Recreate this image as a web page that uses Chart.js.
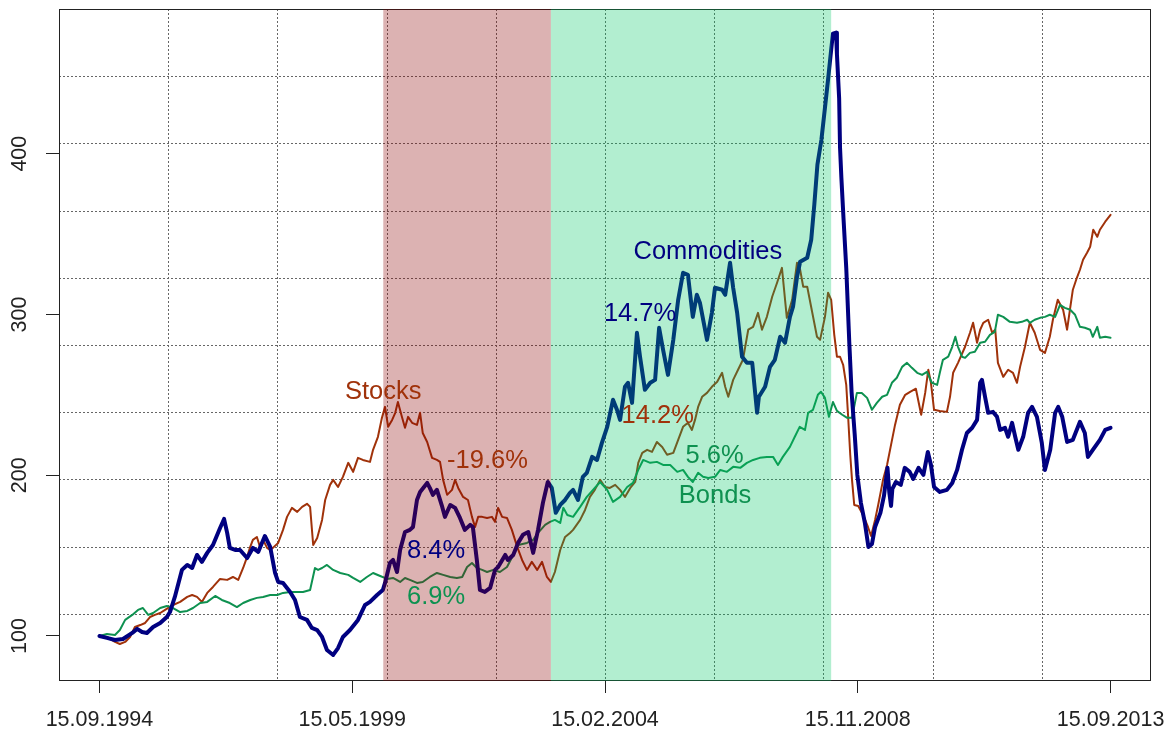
<!DOCTYPE html>
<html>
<head>
<meta charset="utf-8">
<script src="https://cdn.jsdelivr.net/npm/chart.js@4.4.1/dist/chart.umd.min.js"></script>
<style>
  html, body { margin: 0; padding: 0; background: #fff; }
  #wrap { width: 1173px; height: 736px; }
</style>
</head>
<body>
<div id="wrap"><canvas id="chart" width="1173" height="736"></canvas></div>
<script>
// x = months since 15.09.1994, y = index (start = 100)
const xTickPos = [0, 57, 114, 171, 228];
const xTickLabels = ['15.09.1994', '15.05.1999', '15.02.2004', '15.11.2008', '15.09.2013'];
const yTicks = [100, 200, 300, 400];

const commX = [0,1.7,3.5,5.3,7.4,8.5,9.6,10.7,12.1,13.7,15.2,15.9,17.0,18.6,19.8,20.9,22.0,23.1,24.3,25.6,27.2,28.1,28.8,29.4,30.6,31.7,33.3,34.6,35.8,37.3,38.5,39.6,40.3,41.4,43.0,44.1,45.2,46.8,47.9,49.1,50.2,51.3,52.7,53.8,54.9,56.5,58.3,59.9,61.0,62.6,63.9,64.4,65.5,66.2,67.1,67.8,68.9,70.0,70.7,71.6,72.3,73.9,74.5,75.2,76.1,77.3,77.9,79.1,80.2,81.3,82.4,83.6,84.2,85.1,85.8,86.9,88.1,89.2,89.9,91.5,92.1,93.3,94.4,95.5,96.7,97.8,98.9,100.0,101.1,102.0,102.9,103.9,105.0,106.1,106.8,107.9,109.0,109.9,111.1,112.2,113.3,114.5,115.8,116.7,117.4,118.5,119.2,120.1,121.2,121.9,123.0,124.2,125.3,126.2,127.1,128.2,129.4,130.5,131.6,132.7,133.8,134.7,135.4,137.0,138.1,138.8,140.4,141.1,142.2,142.9,143.8,144.9,146.0,147.2,148.3,148.7,150.1,151.2,152.3,153.5,154.6,155.7,156.4,157.3,158.0,159.6,160.5,161.2,161.9,162.8,163.6,164.3,165.0,165.4,166.1,166.3,166.8,167.0,167.3,167.8,168.4,169.1,169.6,170.3,170.9,171.7,172.6,173.4,174.2,174.9,176.1,176.9,177.7,178.1,178.5,178.8,179.6,180.7,181.6,182.7,183.5,184.7,185.8,186.8,187.5,188.2,189.5,191.1,192.3,193.4,194.5,195.6,196.8,197.9,198.6,199.0,199.7,200.4,201.5,202.4,203.1,204.2,204.9,205.8,206.5,207.2,208.3,209.4,210.3,211.4,212.5,213.2,214.4,215.5,216.2,217.1,218.2,219.5,221.1,222.2,222.9,224.0,225.6,226.8,228];
const commY = [100,98.8,97.5,98.1,101.9,104.4,102.5,101.9,105.6,108.1,111.8,114.9,124.3,141.1,144.2,142.3,150.4,146.1,151.7,156.6,167.2,172.8,164.1,154.8,153.5,153.5,148.5,154.8,152.3,162.2,155.4,139.2,133.6,133.0,127.4,122.4,111.8,110.0,105.0,103.7,99.4,91.3,88.2,92.5,99.4,103.7,110.0,119.3,121.2,125.5,128.6,133.0,145.4,147.3,139.8,153.5,164.7,166.0,167.8,184.6,189.6,195.2,192.1,187.8,190.9,180.3,174.1,181.5,179.7,173.4,166.0,169.1,167.8,147.3,128.6,127.4,129.9,141.1,142.9,150.4,147.3,150.4,157.9,162.9,164.7,151.7,166.0,182.8,195.8,192.1,176.6,181.5,184.6,189.0,190.9,184.6,199.0,201.5,211.4,209.5,220.1,230.1,246.9,240.7,234.4,255.0,257.5,245.0,288.6,273.7,253.1,257.5,259.3,291.7,278.0,262.4,284.2,309.1,325.9,324.7,298.5,312.2,307.3,284.2,301.0,316.6,315.4,312.2,332.2,316.6,301.0,273.7,269.9,269.9,238.8,248.8,255.0,267.4,271.8,286.1,282.4,298.5,304.8,323.4,332.8,335.3,346.5,368.3,393.2,408.7,428.6,446.1,464.7,474.7,475.3,461.9,434.2,403.7,385.1,358.9,329.0,281.7,251.9,225.7,200.2,182.8,170.3,155.4,157.3,167.8,176.6,187.1,204.6,189.6,180.9,191.5,195.8,194.0,204.6,202.1,197.7,204.6,200.2,214.5,206.4,192.7,189.6,190.9,195.2,203.3,215.8,226.3,229.5,234.4,257.5,259.3,248.8,238.8,239.4,236.3,228.2,229.5,223.9,232.6,223.9,215.8,223.9,238.8,242.5,236.3,220.1,203.3,215.8,238.8,242.5,236.3,220.7,222.0,233.2,226.3,211.4,215.8,222.0,228.2,229.5];

const stockX = [0,1.7,3.5,4.6,5.8,6.9,8.0,9.2,10.3,11.4,12.5,13.7,14.8,16.6,18.2,19.8,20.9,22.0,23.1,24.3,25.6,27.2,28.8,30.1,31.3,32.4,33.3,34.0,34.6,35.5,36.2,36.9,37.8,38.5,39.1,40.3,41.4,42.3,43.4,44.6,45.7,46.8,47.5,48.2,49.1,50.2,50.9,52.0,52.7,53.8,54.9,56.1,57.2,58.3,59.4,61.0,61.7,62.8,63.7,64.4,65.1,66.0,66.7,67.3,68.2,68.9,69.6,70.5,71.6,72.3,72.9,73.9,75.0,76.1,76.8,77.5,78.4,79.5,80.2,80.9,82.0,83.1,84.0,84.7,85.4,86.3,87.4,88.5,89.2,89.9,90.8,91.9,93.0,94.2,95.3,96.4,97.5,98.7,99.8,100.9,101.8,102.7,103.9,105.0,106.1,106.8,108.4,109.5,110.6,111.7,112.9,114.0,115.1,116.3,117.4,118.5,119.7,120.8,121.5,122.4,123.5,124.6,125.7,126.9,128.0,129.4,130.5,131.6,132.7,133.6,134.3,135.0,135.9,137.0,138.1,139.3,140.4,141.1,141.8,142.9,144.0,145.1,146.3,147.4,148.5,149.4,150.5,151.7,152.8,153.9,155.0,156.2,157.3,158.0,158.7,159.6,160.7,161.8,162.5,163.6,164.3,165.0,165.7,166.3,167.0,167.7,168.4,168.8,169.3,169.7,170.2,171.1,172.2,173.3,174.0,174.9,175.6,176.7,177.6,178.5,179.4,180.5,181.7,182.8,184.1,185.3,186.2,186.9,187.5,188.2,189.5,191.1,191.8,192.5,193.6,195.2,196.3,197.0,197.9,198.6,199.3,200.4,201.3,202.0,202.6,203.8,204.9,206.0,206.9,207.6,208.7,209.8,210.9,212.1,213.2,214.3,215.0,216.1,217.3,218.2,218.9,219.5,220.4,221.1,221.8,222.7,223.4,224.1,225.0,225.6,226.8,228];
const stockY = [100,99.4,96.3,95.0,96.3,99.4,105.6,106.8,108.1,111.8,113.1,114.3,116.2,119.3,121.2,124.3,125.5,124.3,121.2,126.8,130.5,135.5,134.9,136.7,134.9,142.3,149.2,155.4,159.8,161.6,155.4,159.8,154.8,153.5,154.8,157.9,166.0,174.1,179.7,177.2,180.3,182.2,180.3,156.6,161.0,172.2,184.6,194.0,197.1,192.7,199.0,207.7,202.1,210.8,209.5,208.3,215.8,223.9,235.7,242.5,230.1,234.4,238.8,245.6,236.3,229.5,236.3,232.6,231.3,238.8,226.3,220.7,210.8,209.5,208.3,197.1,187.8,190.9,197.1,192.1,186.5,184.6,174.1,167.8,174.1,174.1,173.4,174.1,171.0,179.7,174.1,173.4,166.0,155.4,147.3,141.1,146.1,141.1,146.1,136.7,133.6,139.8,153.5,161.6,164.1,166.0,172.2,178.4,186.5,190.9,197.1,192.7,192.1,194.0,190.9,186.5,192.1,195.8,207.7,213.9,215.8,214.5,220.7,217.6,212.7,213.9,222.0,230.1,232.6,228.2,234.4,242.5,248.8,251.2,255.0,258.1,263.7,255.0,248.8,259.3,265.6,271.8,290.5,292.3,301.0,290.5,298.5,311.0,319.7,329.0,297.9,309.1,332.2,327.8,317.2,317.2,301.7,286.1,284.2,298.5,313.5,309.1,287.3,273.7,273.7,268.7,256.2,237.6,212.7,197.1,181.5,180.9,175.3,167.8,162.2,172.2,181.5,197.1,206.4,218.9,231.3,243.8,250.0,251.9,253.8,237.6,251.2,265.6,257.5,240.7,240.0,239.4,248.8,263.7,269.9,279.9,288.6,294.8,282.4,290.5,294.8,296.7,288.6,290.5,269.9,261.2,265.6,263.7,257.5,267.4,279.9,294.8,288.6,278.0,276.1,286.1,296.7,309.1,302.9,290.5,304.1,315.4,322.8,327.8,334.0,338.4,342.1,352.7,348.3,352.7,357.7,362.0];

const bondX = [0,1.7,3.5,4.6,5.8,7.4,8.7,9.8,11.0,12.1,13.7,15.2,16.6,18.2,19.8,21.1,22.7,24.3,26.1,27.6,29.4,31.0,32.4,34.0,35.5,36.9,38.5,40.1,41.4,43.0,44.6,45.9,47.5,48.6,49.3,50.2,51.3,52.7,54.3,56.1,57.2,58.8,60.3,61.7,63.3,64.9,66.2,67.8,68.9,70.0,71.6,72.9,74.5,76.1,77.5,79.1,80.6,81.8,82.9,84.0,85.1,86.3,87.4,88.8,90.3,91.9,93.3,94.4,96.4,97.8,98.9,100.5,101.6,102.7,103.9,104.6,105.5,106.8,108.4,109.9,111.3,112.9,114.5,115.8,117.4,119.0,120.3,121.5,122.6,124.2,125.7,127.1,128.7,130.3,131.6,132.7,133.8,135.0,136.1,137.3,138.8,140.0,141.5,142.9,144.5,146.0,147.4,148.9,150.5,151.9,153.0,154.1,155.7,156.8,157.9,159.1,159.8,160.9,162.0,162.7,163.6,164.5,165.4,166.3,167.5,168.6,169.7,170.8,171.9,173.1,174.2,175.3,176.5,177.6,178.7,179.8,181.0,182.1,183.2,184.4,185.5,186.6,187.7,188.9,189.5,190.2,191.4,192.3,193.0,193.6,194.5,195.2,196.3,197.4,198.6,199.7,200.8,201.9,202.6,203.8,205.3,206.9,208.0,209.2,209.8,210.9,212.1,213.2,214.3,215.5,216.6,217.7,218.9,220.0,221.1,222.2,223.4,224.0,225.0,225.6,226.8,228];
const bondY = [100,101.2,100.6,103.7,110.0,113.1,116.2,117.4,113.1,114.3,117.4,118.7,117.4,114.9,115.6,117.4,120.5,121.2,124.9,122.4,120.5,118.0,120.5,122.4,123.7,124.3,125.5,125.5,126.8,127.4,127.4,127.4,128.6,142.3,141.1,142.3,144.2,141.1,139.2,138.0,136.1,133.6,136.7,139.2,137.3,135.5,136.1,133.6,136.1,134.9,133.0,133.6,136.7,139.2,138.0,136.7,136.1,136.7,142.9,145.4,142.3,141.1,139.8,141.1,139.8,142.9,150.4,156.6,157.9,159.8,164.1,169.1,171.0,172.2,170.3,179.7,175.3,174.1,180.3,186.5,190.9,195.8,190.9,183.4,186.5,192.7,195.2,203.3,209.5,207.7,208.3,206.4,206.4,202.1,203.3,199.0,195.8,201.5,199.0,198.3,199.0,203.3,202.1,205.2,204.6,207.7,209.5,210.8,211.4,211.4,206.4,211.4,217.6,223.9,230.1,228.2,238.8,240.7,250.0,251.9,248.1,236.3,245.6,240.0,237.6,235.7,235.7,251.2,251.2,248.1,240.7,245.0,248.8,250.0,257.5,260.6,267.4,269.9,266.8,263.7,262.4,264.3,257.5,256.2,263.7,271.8,273.7,279.9,286.1,279.9,273.7,273.0,276.1,276.8,282.4,283.0,287.3,289.2,299.8,298.5,295.4,294.8,295.4,296.7,294.8,296.7,297.9,298.5,299.8,298.5,306.0,304.1,302.9,299.8,292.3,291.7,290.5,286.1,292.3,285.5,286.1,285.5];

// shaded regimes (months) and in-chart labels
const shadeFrom = [64.0, 101.8];
const shadeTo = [101.8, 165.0];
const shadeColors = ['rgba(139, 0, 0, 0.3)', 'rgba(0, 200, 100, 0.3)'];

const noteTexts = ['Stocks', '-19.6%', 'Commodities', '14.7%', '14.2%', '5.6%', 'Bonds', '8.4%', '6.9%'];
const noteX = [64.0, 87.5, 137.2, 121.9, 125.9, 138.7, 138.8, 75.9, 75.9];
const noteY = [251.6, 208.9, 338.7, 300.4, 236.9, 212.0, 186.8, 152.9, 124.0];
const noteSeries = ['stock', 'stock', 'comm', 'comm', 'stock', 'bond', 'bond', 'comm', 'bond'];

const colors = { comm: '#000080', stock: '#a0320a', bond: '#0e9150' };
const fontFamily = '"Liberation Sans", Arial, sans-serif';

const toPoints = (xs, ys) => xs.map((x, i) => ({ x: x, y: ys[i] }));

const decorations = {
    id: 'decorations',
    beforeDatasetsDraw(chart) {
        const { ctx, chartArea: a, scales: { x, y } } = chart;
        ctx.save();
        // R style grid(): 10 equal cells, dotted
        ctx.strokeStyle = '#666';
        ctx.lineWidth = 1;
        ctx.setLineDash([2, 2]);
        for (let k = 1; k < 10; k++) {
            const gx = Math.round(x.getPixelForValue(x.min + k * (x.max - x.min) / 10)) + 0.5;
            const gy = Math.round(y.getPixelForValue(y.min + k * (y.max - y.min) / 10)) + 0.5;
            ctx.beginPath();
            ctx.moveTo(gx, a.top);
            ctx.lineTo(gx, a.bottom);
            ctx.moveTo(a.left, gy);
            ctx.lineTo(a.right, gy);
            ctx.stroke();
        }
        ctx.setLineDash([]);
        ctx.strokeStyle = '#222';
        ctx.strokeRect(a.left + 0.5, a.top + 0.5, a.right - a.left - 1, a.bottom - a.top - 1);
        ctx.restore();
    },
    afterDatasetsDraw(chart) {
        const { ctx, chartArea: a, scales: { x, y } } = chart;
        ctx.save();
        shadeFrom.forEach((from, i) => {
            const x1 = x.getPixelForValue(from);
            const x2 = x.getPixelForValue(shadeTo[i]);
            ctx.fillStyle = shadeColors[i];
            ctx.fillRect(x1, a.top, x2 - x1, a.bottom - a.top);
        });

        ctx.font = '25.5px ' + fontFamily;
        ctx.textAlign = 'center';
        ctx.textBaseline = 'middle';
        noteTexts.forEach((t, i) => {
            ctx.fillStyle = colors[noteSeries[i]];
            ctx.fillText(t, x.getPixelForValue(noteX[i]), y.getPixelForValue(noteY[i]));
        });

        // rotated y tick labels, as in base R
        ctx.font = '21.5px ' + fontFamily;
        ctx.fillStyle = '#222';
        yTicks.forEach(v => {
            ctx.save();
            ctx.translate(20.5, y.getPixelForValue(v));
            ctx.rotate(-Math.PI / 2);
            ctx.fillText(String(v), 0, 0);
            ctx.restore();
        });
        ctx.restore();
    }
};

new Chart(document.getElementById('chart'), {
    type: 'line',
    data: {
        datasets: [
            { label: 'Commodities', data: toPoints(commX, commY), borderColor: colors.comm, borderWidth: 4 },
            { label: 'Bonds', data: toPoints(bondX, bondY), borderColor: colors.bond, borderWidth: 2 },
            { label: 'Stocks', data: toPoints(stockX, stockY), borderColor: colors.stock, borderWidth: 2 }
        ]
    },
    options: {
        responsive: false,
        animation: false,
        devicePixelRatio: 1,
        layout: { padding: { top: 9, right: 22, left: 0, bottom: 0 } },
        elements: {
            point: { radius: 0, hoverRadius: 0 },
            line: { tension: 0, borderJoinStyle: 'round', borderCapStyle: 'round', fill: false }
        },
        plugins: {
            legend: { display: false },
            tooltip: { enabled: false }
        },
        scales: {
            x: {
                type: 'linear',
                min: -9.12,
                max: 237.12,
                afterBuildTicks: (scale) => { scale.ticks = xTickPos.map(v => ({ value: v })); },
                afterFit: (scale) => {
                    scale.height = 55;
                    scale.paddingLeft = 0;
                    scale.paddingRight = 0;
                },
                ticks: {
                    autoSkip: false,
                    maxRotation: 0,
                    padding: 14,
                    color: '#222',
                    font: { family: fontFamily, size: 21.5 },
                    callback: (value, index) => xTickLabels[index]
                },
                grid: { drawOnChartArea: false, drawTicks: true, tickLength: 12, tickColor: '#222' },
                border: { display: false }
            },
            y: {
                type: 'linear',
                min: 72,
                max: 490,
                afterBuildTicks: (scale) => { scale.ticks = yTicks.map(v => ({ value: v })); },
                afterFit: (scale) => {
                    scale.width = 59;
                    scale.paddingTop = 0;
                    scale.paddingBottom = 0;
                },
                ticks: { display: false },
                grid: { drawOnChartArea: false, drawTicks: true, tickLength: 13, tickColor: '#222' },
                border: { display: false }
            }
        }
    },
    plugins: [decorations]
});
</script>
</body>
</html>
